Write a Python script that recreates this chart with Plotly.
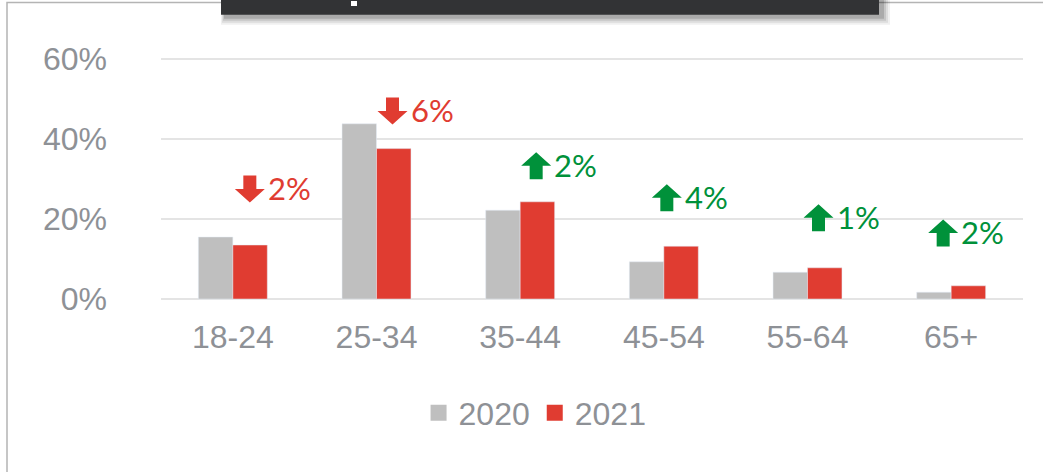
import plotly.graph_objects as go

AGE_GROUPS = ["18-24", "25-34", "35-44", "45-54", "55-64", "65+"]
SHARE_2020 = [15.5, 43.8, 22.2, 9.3, 6.7, 1.7]
SHARE_2021 = [13.5, 37.6, 24.3, 13.2, 7.8, 3.3]
Y_TICKS = [0, 20, 40, 60]
Y_TICK_TEXT = ["0%", "20%", "40%", "60%"]

COLOR_2020 = "#BFBFBF"
COLOR_2021 = "#E03C31"
COLOR_UP = "#00913A"
COLOR_TEXT = "#8E9196"
GRID = "#E4E4E4"

W, H = 1043, 472
ML, MR, MT, MB = 161, 20, 57, 171
PW, PH = W - ML - MR, H - MT - MB

# where each change marker sits (y in axis units, x nudge in px)
MARK_Y = [27.5, 47, 33.3, 25.3, 20.3, 16.5]
MARK_DX = [17, 16, 16, 3, 11, -8]


def arrow_path(dx, up):
    # block arrow, pixel coords around the anchor, y positive = up
    s = 1 if up else -1
    pts = [(-6.5, -13.5), (6.5, -13.5), (6.5, 0), (15, 0), (0, 13.5), (-15, 0), (-6.5, 0)]
    return "M " + " L ".join(f"{x + dx},{y * s}" for x, y in pts) + " Z"


def px_x(x):
    return (x - ML) / PW


def px_y(y):
    return (H - MB - y) / PH


fig = go.Figure()
fig.add_trace(go.Bar(x=AGE_GROUPS, y=SHARE_2020, marker_color=COLOR_2020,
                     showlegend=False, name="2020"))
fig.add_trace(go.Bar(x=AGE_GROUPS, y=SHARE_2021, marker_color=COLOR_2021,
                     showlegend=False, name="2021"))
# legend entries with bigger squares
for name, col in [("2020", COLOR_2020), ("2021", COLOR_2021)]:
    fig.add_trace(go.Scatter(x=[None], y=[None], mode="markers", name=name,
                             marker=dict(symbol="square", size=16, color=col)))

shapes = []
annotations = []
for i, (a, b, my, dx) in enumerate(zip(SHARE_2020, SHARE_2021, MARK_Y, MARK_DX)):
    diff = b - a
    col = COLOR_UP if diff > 0 else COLOR_2021
    shapes.append(dict(type="path", xref="x", yref="y", xsizemode="pixel",
                       ysizemode="pixel", xanchor=i, yanchor=my,
                       path=arrow_path(dx, diff > 0),
                       fillcolor=col, line=dict(width=0)))
    annotations.append(dict(x=AGE_GROUPS[i], y=my, xref="x", yref="y",
                            text=f"{abs(round(diff))}%",
                            showarrow=False, xanchor="left", yanchor="middle",
                            xshift=dx + 16, yshift=1,
                            font=dict(family="Lato", size=31, color=col)))

# outer frame
shapes.append(dict(type="rect", xref="paper", yref="paper", layer="below",
                   x0=px_x(7), x1=px_x(W + 20), y0=px_y(H + 20), y1=px_y(2.5),
                   line=dict(color="#B4B4B4", width=1.5), fillcolor="rgba(0,0,0,0)"))
# title bar shadow + bar
for i, op in enumerate([0.06, 0.08, 0.10, 0.14]):
    g = 8 - 2 * i
    shapes.append(dict(type="rect", xref="paper", yref="paper", layer="above",
                       x0=px_x(221 + 4 - g / 2), x1=px_x(879 + 3 + g),
                       y0=px_y(14.7 + 2 + g), y1=px_y(-10),
                       line=dict(width=0), fillcolor=f"rgba(0,0,0,{op})"))
shapes.append(dict(type="rect", xref="paper", yref="paper", layer="above",
                   x0=px_x(221), x1=px_x(879), y0=px_y(14.7), y1=px_y(-10),
                   line=dict(width=0), fillcolor="#323335"))
shapes.append(dict(type="rect", xref="paper", yref="paper", layer="above",
                   x0=px_x(351), x1=px_x(357), y0=px_y(6), y1=px_y(1),
                   line=dict(width=0), fillcolor="#FFFFFF"))

fig.update_layout(
    width=W, height=H,
    margin=dict(l=ML, r=MR, t=MT, b=MB),
    barmode="group", bargap=0.52, bargroupgap=0,
    plot_bgcolor="white", paper_bgcolor="white",
    font=dict(family="Liberation Sans, Arial", size=32, color=COLOR_TEXT),
    shapes=shapes, annotations=annotations,
    legend=dict(orientation="h", xref="container", yref="container",
                x=0.513, y=0.125, xanchor="center", yanchor="middle",
                font=dict(size=32, color=COLOR_TEXT), itemwidth=30,
                traceorder="normal"),
)
fig.update_xaxes(showgrid=False, showline=False, zeroline=False,
                 ticklabelstandoff=14, fixedrange=True)
fig.update_yaxes(range=[-0.5, 60.5], tickvals=Y_TICKS, ticktext=Y_TICK_TEXT,
                 showgrid=True, gridcolor=GRID, gridwidth=1.5, zeroline=False,
                 showline=False, ticklabelstandoff=53, fixedrange=True)

fig.write_html("out.html", config={"displayModeBar": False},
               post_script="document.body.style.margin='0';")
